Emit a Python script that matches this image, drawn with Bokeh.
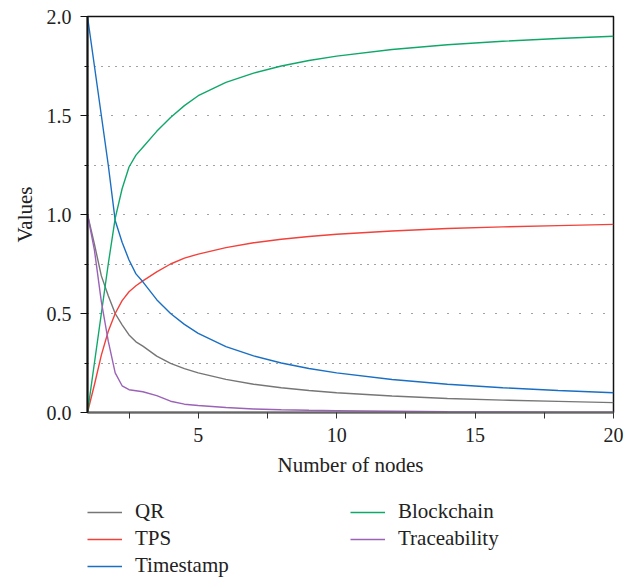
from bokeh.plotting import figure
from bokeh.layouts import column
from bokeh.models import (FixedTicker, Legend, LegendItem, CustomJSTickFormatter,
                          Range1d)
from bokeh.embed import file_html
from bokeh.resources import INLINE

# Number of nodes (shared x samples)
nodes = [1, 1.25, 1.5, 1.75, 2, 2.25, 2.5, 2.75, 3, 3.5, 4, 4.5, 5,
         6, 7, 8, 9, 10, 12, 14, 16, 18, 20]

qr = [1.0, 0.85, 0.69, 0.59, 0.50, 0.443, 0.392, 0.357, 0.335, 0.285, 0.248,
      0.222, 0.200, 0.167, 0.143, 0.125, 0.111, 0.100, 0.083, 0.071, 0.0625,
      0.056, 0.050]
tps = [0.0, 0.14, 0.29, 0.41, 0.50, 0.565, 0.61, 0.64, 0.665, 0.71, 0.75,
       0.78, 0.80, 0.833, 0.857, 0.875, 0.889, 0.900, 0.917, 0.929, 0.9375,
       0.944, 0.950]
timestamp = [2.0, 1.75, 1.5, 1.25, 0.97, 0.86, 0.77, 0.70, 0.66, 0.57, 0.50,
             0.445, 0.400, 0.333, 0.286, 0.250, 0.222, 0.200, 0.167, 0.143,
             0.125, 0.111, 0.100]
blockchain = [0.0, 0.25, 0.5, 0.75, 0.98, 1.13, 1.24, 1.30, 1.34, 1.42, 1.49,
              1.55, 1.60, 1.667, 1.714, 1.750, 1.778, 1.800, 1.833, 1.857,
              1.875, 1.889, 1.900]
traceability = [1.0, 0.82, 0.56, 0.36, 0.20, 0.135, 0.115, 0.11, 0.105, 0.085,
                0.057, 0.042, 0.035, 0.025, 0.018, 0.014, 0.011, 0.009, 0.006,
                0.004, 0.003, 0.002, 0.002]

series_names = ["QR", "TPS", "Timestamp", "Blockchain", "Traceability"]
series_values = [qr, tps, timestamp, blockchain, traceability]
series_colors = ["#767676", "#f2413a", "#1a6fc4", "#10a86a", "#9b62b8"]

x_major = [5, 10, 15, 20]
x_minor = [2.5, 7.5, 12.5, 17.5]
y_major = [0, 0.5, 1.0, 1.5, 2.0]
y_minor = [0.25, 0.75, 1.25, 1.75]

FONT = "Liberation Serif"

p = figure(width=635, height=486, output_backend="svg", toolbar_location=None,
           x_range=Range1d(1, 20), y_range=Range1d(0, 2),
           min_border_left=87, min_border_right=22, min_border_top=16,
           min_border_bottom=74)
p.background_fill_color = "white"
p.border_fill_color = "white"
p.outline_line_color = "#111111"
p.outline_line_width = 1.5

for name, vals, col in zip(series_names, series_values, series_colors):
    p.line(nodes, vals, line_color=col, line_width=1.4)

# x axis
p.xaxis.ticker = FixedTicker(ticks=x_major, minor_ticks=x_minor)
p.xaxis.axis_label = "Number of nodes"
p.xaxis.axis_line_color = "#666666"
p.xaxis.axis_line_width = 2
p.xaxis.major_tick_line_color = "#333333"
p.xaxis.minor_tick_line_color = "#333333"
p.xaxis.major_tick_in = 0
p.xaxis.major_tick_out = 6
p.xaxis.minor_tick_in = 0
p.xaxis.minor_tick_out = 6
p.xaxis.major_label_standoff = 9

# y axis
p.yaxis.ticker = FixedTicker(ticks=y_major, minor_ticks=y_minor)
p.yaxis.formatter = CustomJSTickFormatter(code="return tick.toFixed(1);")
p.yaxis.axis_label = "Values"
p.yaxis.axis_line_color = "#111111"
p.yaxis.axis_line_width = 2
p.yaxis.major_tick_line_color = "#111111"
p.yaxis.minor_tick_line_color = "#111111"
p.yaxis.major_tick_in = 0
p.yaxis.major_tick_out = 7
p.yaxis.minor_tick_in = 0
p.yaxis.minor_tick_out = 3
p.yaxis.major_label_standoff = 9

for ax in (p.xaxis, p.yaxis):
    ax.major_label_text_font = FONT
    ax.major_label_text_font_size = "20px"
    ax.major_label_text_color = "#222222"
    ax.axis_label_text_font = FONT
    ax.axis_label_text_font_size = "21px"
    ax.axis_label_text_font_style = "normal"
    ax.axis_label_text_color = "#222222"
p.xaxis.axis_label_standoff = 8
p.yaxis.axis_label_standoff = 7

# dotted horizontal guides
p.xgrid.grid_line_color = None
p.ygrid.ticker = FixedTicker(ticks=y_major, minor_ticks=y_minor)
p.ygrid.grid_line_color = "#444444"
p.ygrid.grid_line_dash = "1 11"
p.ygrid.grid_line_width = 1.2
p.ygrid.minor_grid_line_color = "#444444"
p.ygrid.minor_grid_line_dash = "1 6"
p.ygrid.minor_grid_line_width = 1.2

# key strip under the chart: one flat swatch per series (its end value held
# across the node span), kept outside the strip's view so only the legend shows
key = figure(width=635, height=92, output_backend="svg", toolbar_location=None,
             x_axis_type=None, y_axis_type=None,
             x_range=Range1d(100, 101), y_range=Range1d(100, 101),
             min_border_left=0, min_border_right=0, min_border_top=0,
             min_border_bottom=0)
key.outline_line_color = None
key.xgrid.grid_line_color = None
key.ygrid.grid_line_color = None
swatches = {}
for name, vals, col in zip(series_names, series_values, series_colors):
    swatches[name] = key.line([nodes[0], nodes[-1]], [vals[-1], vals[-1]],
                              line_color=col, line_width=1.4)

key_order = ["QR", "Blockchain", "TPS", "Traceability", "Timestamp"]
items = [LegendItem(label=n, renderers=[swatches[n]]) for n in key_order]
legend = Legend(items=items, location=(0, 0), orientation="horizontal",
                ncols=2,
                border_line_color=None, background_fill_alpha=0,
                label_text_font=FONT, label_text_font_size="21px",
                label_text_color="#222222", glyph_width=35, glyph_height=22,
                label_standoff=13, label_width=213, spacing=2,
                padding=0, margin=0)
key.add_layout(legend)

layout = column(p, key, spacing=0)
open("out.html", "w").write(file_html(layout, INLINE))
